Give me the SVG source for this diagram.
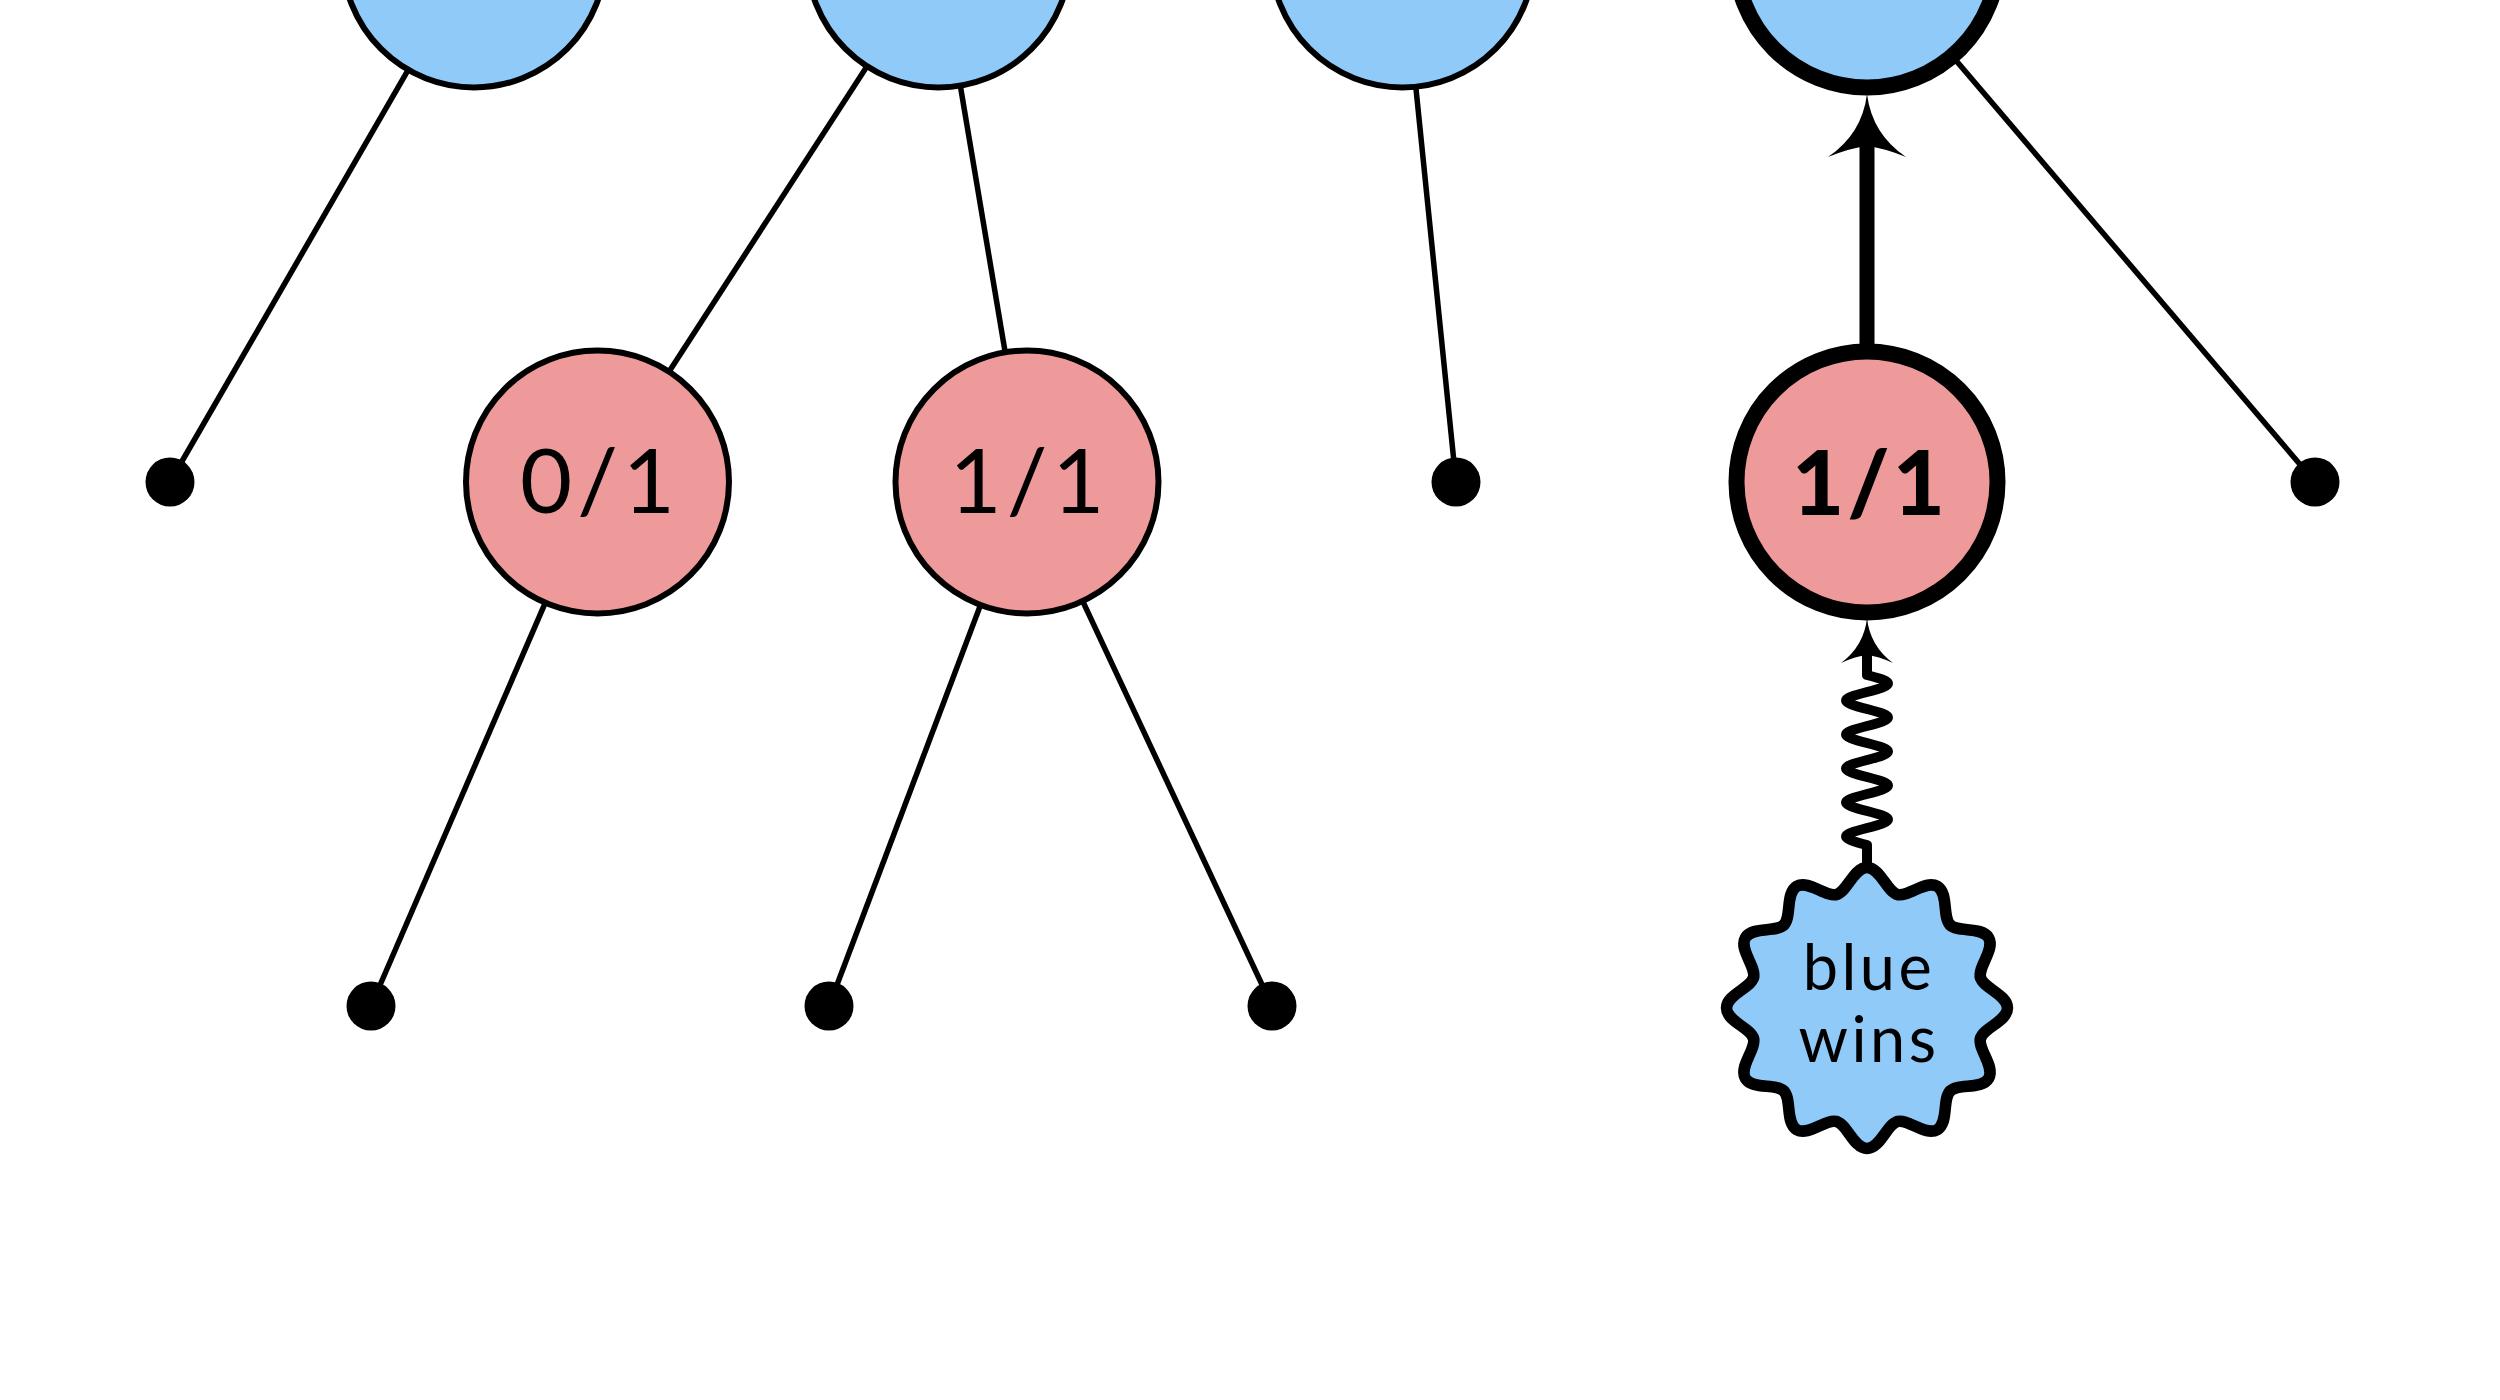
<svg xmlns="http://www.w3.org/2000/svg" xmlns:xlink="http://www.w3.org/1999/xlink" width="2500" height="1400" viewBox="0 0 2500 1400">
  <style>
    .edge { stroke: #000; stroke-width: 5.5; fill: none; }
    .blue { fill: #90CAF9; stroke: #000; stroke-width: 6; }
    .red { fill: #EF9A9A; stroke: #000; stroke-width: 6; }
    .bold { stroke-width: 16; }
    .leaf { fill: #000; }
    .lbl { font-family: Lato, "Noto Sans", "DejaVu Sans", sans-serif; font-size: 90px; fill: #000; text-anchor: middle; letter-spacing: 5px; }
    .lblb { font-weight: 900; letter-spacing: 3px; }
    .star { font-family: Lato, "Noto Sans", "DejaVu Sans", sans-serif; font-size: 63px; fill: #000; text-anchor: middle; letter-spacing: 3.5px; }
    .arrowhead { fill: #000; stroke: none; }
  </style>
  <defs>
    <path id="lobe-fill" d="M0,0 L-30.41,-113.5 C-19.61,-116.39 -13.37,-140.5 0,-140.5 C13.37,-140.5 19.61,-116.39 30.41,-113.5 Z" fill="#90CAF9" stroke="none"/>
    <path id="lobe-line" d="M-30.41,-113.5 C-19.61,-116.39 -13.37,-140.5 0,-140.5 C13.37,-140.5 19.61,-116.39 30.41,-113.5" fill="none" stroke="#000" stroke-width="11.5" stroke-linecap="round"/>
  </defs>
  <rect x="0" y="0" width="2500" height="1400" fill="#fff"/>

  <g id="connectors">
    <line class="edge" x1="474" y1="-44" x2="170" y2="482"/>
    <line class="edge" x1="938.5" y1="-44" x2="597.5" y2="482"/>
    <line class="edge" x1="938.5" y1="-44" x2="1027" y2="482"/>
    <line class="edge" x1="1402.5" y1="-44" x2="1456" y2="482"/>
    <line class="edge" x1="1867" y1="-44" x2="2315" y2="482"/>
    <line class="edge" x1="597.5" y1="482" x2="371" y2="1006"/>
    <line class="edge" x1="1027" y1="482" x2="829" y2="1006"/>
    <line class="edge" x1="1027" y1="482" x2="1272" y2="1006"/>
    <!-- bold arrow up to the top node -->
    <line x1="1867" y1="345" x2="1867" y2="130" stroke="#000" stroke-width="15"/>
    <path class="arrowhead" d="M1867,94 Q1862,134 1828,157 Q1850,148 1867,146 Q1884,148 1906,157 Q1872,134 1867,94 Z"/>
    <!-- snake arrow from the result -->
    <path d="M1867,868 L1867,845 C1839,837.8 1839,835.2 1867,828 C1895,820.8 1895,818.2 1867,811 C1839,803.8 1839,801.2 1867,794 C1895,786.8 1895,784.2 1867,777 C1839,769.8 1839,767.2 1867,760 C1895,752.8 1895,750.2 1867,743 C1839,735.8 1839,733.2 1867,726 C1895,718.8 1895,716.2 1867,709 C1839,701.8 1839,699.2 1867,692 C1895,684.8 1895,682.2 1867,675 L1867,645" fill="none" stroke="#000" stroke-width="10" stroke-linejoin="round"/>
    <path class="arrowhead" d="M1867,618 Q1864,646 1841,663 Q1856,656 1867,655 Q1878,656 1893,663 Q1870,646 1867,618 Z"/>
  </g>

  <g id="n-blue1"><circle class="blue" cx="474" cy="-44" r="131.5"/></g>
  <g id="n-blue2"><circle class="blue" cx="938.5" cy="-44" r="131.5"/></g>
  <g id="n-blue3"><circle class="blue" cx="1402.5" cy="-44" r="131.5"/></g>
  <g id="n-blue4"><circle class="blue bold" cx="1867" cy="-44" r="131.5"/></g>

  <g id="n-red01">
    <circle class="red" cx="597.5" cy="482" r="131.5"/>
    <text class="lbl" x="600" y="513">0/1</text>
  </g>
  <g id="n-red11">
    <circle class="red" cx="1027" cy="482" r="131.5"/>
    <text class="lbl" x="1029.5" y="513">1/1</text>
  </g>
  <g id="n-red11-bold">
    <circle class="red bold" cx="1867" cy="482" r="130.5"/>
    <text class="lbl lblb" x="1870" y="515">1/1</text>
  </g>

  <g id="leaf1"><circle class="leaf" cx="170" cy="482" r="24.5"/></g>
  <g id="leaf2"><circle class="leaf" cx="1456" cy="482" r="24.5"/></g>
  <g id="leaf3"><circle class="leaf" cx="2315" cy="482" r="24.5"/></g>
  <g id="leaf4"><circle class="leaf" cx="371" cy="1006" r="24.5"/></g>
  <g id="leaf5"><circle class="leaf" cx="829" cy="1006" r="24.5"/></g>
  <g id="leaf6"><circle class="leaf" cx="1272" cy="1006" r="24.5"/></g>

  <g id="n-bluewins">
    <g transform="translate(1867,1008)">
      <circle cx="0" cy="0" r="121" fill="#90CAF9"/>
      <use xlink:href="#lobe-fill" href="#lobe-fill"/>
      <use xlink:href="#lobe-fill" href="#lobe-fill" transform="rotate(30)"/>
      <use xlink:href="#lobe-fill" href="#lobe-fill" transform="rotate(60)"/>
      <use xlink:href="#lobe-fill" href="#lobe-fill" transform="rotate(90)"/>
      <use xlink:href="#lobe-fill" href="#lobe-fill" transform="rotate(120)"/>
      <use xlink:href="#lobe-fill" href="#lobe-fill" transform="rotate(150)"/>
      <use xlink:href="#lobe-fill" href="#lobe-fill" transform="rotate(180)"/>
      <use xlink:href="#lobe-fill" href="#lobe-fill" transform="rotate(210)"/>
      <use xlink:href="#lobe-fill" href="#lobe-fill" transform="rotate(240)"/>
      <use xlink:href="#lobe-fill" href="#lobe-fill" transform="rotate(270)"/>
      <use xlink:href="#lobe-fill" href="#lobe-fill" transform="rotate(300)"/>
      <use xlink:href="#lobe-fill" href="#lobe-fill" transform="rotate(330)"/>
      <use xlink:href="#lobe-line" href="#lobe-line"/>
      <use xlink:href="#lobe-line" href="#lobe-line" transform="rotate(30)"/>
      <use xlink:href="#lobe-line" href="#lobe-line" transform="rotate(60)"/>
      <use xlink:href="#lobe-line" href="#lobe-line" transform="rotate(90)"/>
      <use xlink:href="#lobe-line" href="#lobe-line" transform="rotate(120)"/>
      <use xlink:href="#lobe-line" href="#lobe-line" transform="rotate(150)"/>
      <use xlink:href="#lobe-line" href="#lobe-line" transform="rotate(180)"/>
      <use xlink:href="#lobe-line" href="#lobe-line" transform="rotate(210)"/>
      <use xlink:href="#lobe-line" href="#lobe-line" transform="rotate(240)"/>
      <use xlink:href="#lobe-line" href="#lobe-line" transform="rotate(270)"/>
      <use xlink:href="#lobe-line" href="#lobe-line" transform="rotate(300)"/>
      <use xlink:href="#lobe-line" href="#lobe-line" transform="rotate(330)"/>
    </g>
    <text class="star" x="1869" y="990">blue</text>
    <text class="star" x="1869" y="1062">wins</text>
  </g>
</svg>
